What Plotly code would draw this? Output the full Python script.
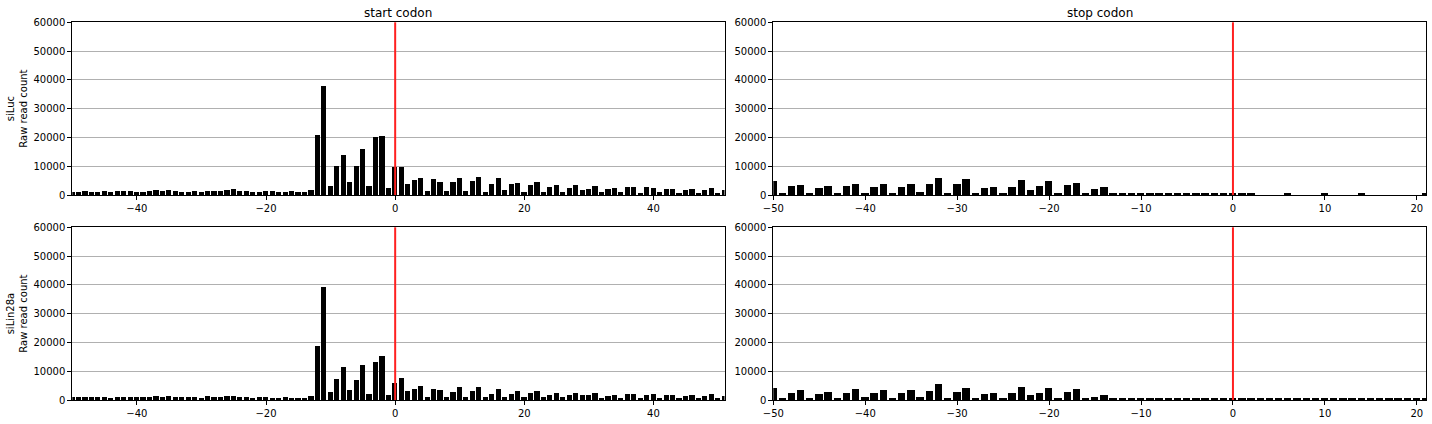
import plotly.graph_objects as go

# ---------------- data ----------------
start_x = list(range(-50, 52))
stop_x = list(range(-50, 22))

siluc_start = (
    [900, 900, 1300, 900, 900, 1300, 900, 1300, 1300, 1300,
     900, 900, 1300, 1700, 1300, 1700, 1300, 900, 900, 1300,
     900, 1300, 1300, 1300, 1700, 2000, 1300, 1300, 900, 900,
     1300, 1300, 900, 900, 1300, 900, 900, 1700]
    + [20800, 37800, 3100, 10000, 13900, 4500, 10000, 16000, 3100, 20100, 20500, 2400, 9700]
    + [9700, 3600, 5200, 5900, 1400, 5500, 4500, 1400, 4500, 5900,
       1400, 4900, 6200, 1000, 3800, 5900, 1700, 3800, 4200, 1000,
       3500, 4500, 1000, 2800, 3500, 1000, 2400, 3500, 1700, 2100,
       3100, 1000, 2100, 2400, 1000, 2800, 2800, 700, 2800, 2400,
       1000, 2100, 2100, 700, 1700, 2100, 700, 1700, 2400, 700, 1700]
)

silin_start = (
    [1000, 1000, 1000, 1000, 1000, 1000, 700, 1000, 1000, 1000,
     1000, 1000, 1000, 1400, 1000, 1400, 1000, 1000, 1000, 1000,
     700, 1400, 1000, 1000, 1400, 1400, 1000, 1000, 700, 1000,
     1000, 700, 700, 1000, 700, 700, 700, 1400]
    + [18800, 39300, 2800, 7300, 11500, 3500, 7000, 12200, 2100, 13200, 15300, 1700, 5900]
    + [7600, 3100, 3800, 4900, 1000, 3800, 3500, 1000, 2800, 4500,
       1000, 3100, 4500, 1000, 2100, 3800, 1000, 2100, 3100, 1000,
       2400, 3100, 1000, 1700, 2400, 1000, 1700, 2400, 1700, 1700,
       2400, 700, 1400, 1700, 700, 2100, 2100, 700, 1700, 2100,
       700, 1700, 1700, 700, 1400, 1700, 700, 1400, 2100, 700, 1400]
)

siluc_stop = (
    [4900, 700, 3100, 3500, 700, 2400, 3100, 700, 3100, 3800,
     700, 2800, 3800, 700, 2800, 3800, 1000, 3800, 5900, 700,
     3800, 5500, 700, 2400, 2800, 700, 2800, 5200, 1700, 3100,
     4900, 700, 3500, 4200, 700, 2100]
    + [2800, 700, 350, 700, 350,
       300, 300, 300, 300, 300, 300, 300, 300, 300,
       300, 300, 300, 0, 0, 0, 300, 0, 0, 0, 300, 0, 0, 0, 300,
       0, 0, 0, 0, 0, 0, 300]
)

silin_stop = (
    [4200, 700, 2400, 3500, 700, 2100, 2800, 700, 2400, 3800,
     1000, 2400, 3500, 700, 2400, 3500, 1000, 3100, 5600, 700,
     2800, 4200, 700, 2100, 2400, 700, 2400, 4500, 1700, 2400,
     4200, 700, 2800, 3800, 700, 1000]
    + [1700, 700, 300, 700, 700]
    + [300] * 31
)

panel_titles = ["start codon", "stop codon"]
row_labels = ["siLuc<br>Raw read count", "siLin28a<br>Raw read count"]
start_ticks = [-40, -20, 0, 20, 40]
stop_ticks = [-50, -40, -30, -20, -10, 0, 10, 20]
y_ticks = [0, 10000, 20000, 30000, 40000, 50000, 60000]

# ---------------- layout geometry ----------------
W, H = 1432, 424
FONT = "DejaVu Sans"


def px_x(p):
    return p / W


def px_y(p):
    return (H - p) / H


left_dom = [px_x(72.3), px_x(724.5)]
right_dom = [px_x(773.3), px_x(1426)]
top_dom = [px_y(195), px_y(22.3)]
bot_dom = [px_y(400), px_y(227.3)]

fig = go.Figure()

panels = [
    ("x", "y", start_x, siluc_start),
    ("x2", "y2", stop_x, siluc_stop),
    ("x3", "y3", start_x, silin_start),
    ("x4", "y4", stop_x, silin_stop),
]
for xa, ya, xs, ys in panels:
    fig.add_trace(go.Bar(
        x=xs, y=ys, xaxis=xa, yaxis=ya, width=0.8,
        marker=dict(color="black", line=dict(width=0)),
        showlegend=False, hoverinfo="x+y",
    ))
    fig.add_shape(type="line", xref=xa, yref=f"{ya} domain",
                  x0=0, x1=0, y0=0, y1=1,
                  line=dict(color="#ff2020", width=2), layer="above")

axis_common = dict(
    showline=True, mirror=True, linecolor="black", linewidth=1,
    ticks="outside", ticklen=4, tickwidth=1, tickcolor="black",
    tickfont=dict(family=FONT, size=10, color="black"),
    zeroline=False, automargin=False,
)


def xax(domain, anchor, rng, ticks):
    return dict(domain=domain, anchor=anchor, range=rng,
                tickmode="array", tickvals=ticks, showgrid=False, **axis_common)


def yax(domain, anchor):
    return dict(domain=domain, anchor=anchor, range=[0, 60000],
                tickmode="array", tickvals=y_ticks, tickformat="d",
                showgrid=True, gridcolor="#b0b0b0", gridwidth=1, **axis_common)


fig.update_layout(
    width=W, height=H, autosize=False,
    margin=dict(l=0, r=0, t=0, b=0, pad=0, autoexpand=False),
    paper_bgcolor="white", plot_bgcolor="white",
    bargap=0,
    font=dict(family=FONT, size=10, color="black"),
    xaxis=xax(left_dom, "y", [-50, 51], start_ticks),
    yaxis=yax(top_dom, "x"),
    xaxis2=xax(right_dom, "y2", [-50, 21], stop_ticks),
    yaxis2=yax(top_dom, "x2"),
    xaxis3=xax(left_dom, "y3", [-50, 51], start_ticks),
    yaxis3=yax(bot_dom, "x3"),
    xaxis4=xax(right_dom, "y4", [-50, 21], stop_ticks),
    yaxis4=yax(bot_dom, "x4"),
)

annotations = []
for dom, title in zip([left_dom, right_dom], panel_titles):
    annotations.append(dict(
        text=title, xref="paper", yref="paper",
        x=(dom[0] + dom[1]) / 2, y=px_y(13),
        xanchor="center", yanchor="middle", showarrow=False,
        font=dict(family=FONT, size=12, color="black"),
    ))
for dom, lab in zip([top_dom, bot_dom], row_labels):
    annotations.append(dict(
        text=lab, xref="paper", yref="paper",
        x=px_x(17), y=(dom[0] + dom[1]) / 2,
        xanchor="center", yanchor="middle", showarrow=False,
        textangle=-90,
        font=dict(family=FONT, size=10, color="black"),
    ))
fig.update_layout(annotations=annotations)

# remove the browser's default 8px body margin so the figure fills the window
fig.write_html(
    "out.html",
    config={"displayModeBar": False},
    post_script="document.body.style.margin='0';document.body.style.overflow='hidden';",
)
